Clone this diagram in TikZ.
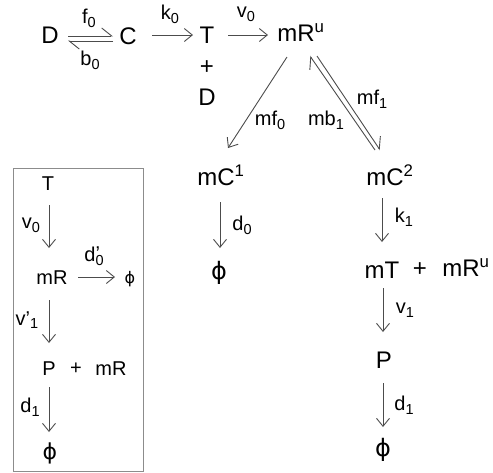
\documentclass[tikz,border=0pt]{standalone}
\usepackage{fontspec}
\setmainfont{Liberation Sans}
\newfontfamily\phifont{DejaVu Sans}
\usetikzlibrary{arrows.meta,calc}
\newcommand{\lsb}[1]{\raisebox{-0.35ex}{\fontsize{14.5}{14.5}\selectfont #1}}
\newcommand{\lsp}[1]{\textsuperscript{#1}}
\newcommand{\phis}{{\phifont ϕ}}
\begin{document}
\begin{tikzpicture}[x=1pt,y=-1pt,
  main/.style={font=\fontsize{24}{28}\selectfont, inner sep=0pt},
  boxt/.style={font=\fontsize{20}{24}\selectfont, inner sep=0pt},
  lbl/.style={font=\fontsize{20}{22}\selectfont, inner sep=0pt},
  arr/.style={draw=black!70, line width=0.9pt, -{Straight Barb[length=8pt,width=13pt]}},
  harp/.style={draw=black!70, line width=0.9pt, -{Straight Barb[left,length=10pt,width=16pt]}},
  frame/.style={draw=black!45, line width=0.9pt}]
\useasboundingbox (0,0) rectangle (493,472);
% main nodes
\node[main] (D1) at (50,35) {D};
\node[main] (C) at (128,36) {C};
\node[main] (T1) at (207,35) {T};
\node[main] (pl1) at (207,68) {+};
\node[main] (D2) at (207,97) {D};
\node[main] (mRu) at (301,33) {mR\lsp{u}};
\node[main] (mC1) at (221,175) {mC\lsp{1}};
\node[main] (mC2) at (390,175) {mC\lsp{2}};
\node[main] (phi1) at (219,273) {\phis};
\node[main] (mT) at (382,270) {mT};
\node[main] (pl2) at (420,270) {+};
\node[main] (mRu2) at (466,268) {mR\lsp{u}};
\node[main] (P1) at (384,360) {P};
\node[main] (phi2) at (383,450) {\phis};
% box
\draw[frame] (13,168) rectangle (143,471);
\node[boxt] (T2) at (48,184) {T};
\node[boxt] (mRb) at (52,278) {mR};
\node[font=\fontsize{16}{18}\selectfont, inner sep=0pt] (phi3) at (130,279) {\phis};
\node[boxt] (Pb) at (49,369) {P};
\node[boxt] (pl3) at (76,369) {+};
\node[boxt] (mRb2) at (111,369) {mR};
\node[font=\fontsize{22}{26}\selectfont, inner sep=0pt] (phi4) at (50,453) {\phis};
% arrows
\draw[harp] ($(D1)+(18,1)$) -- ($(C)+(-15,0)$);
\draw[harp] ($(C)+(-15,5)$) -- ($(D1)+(18,6)$);
\draw[arr] ($(C)+(24,-1)$) -- ($(T1)+(-14,0)$);
\draw[arr] ($(T1)+(21,0)$) -- ($(mRu)+(-33,2)$);
\draw[arr] ($(mRu)+(-14,24)$) -- ($(mC1)+(7,-27)$);
\draw[harp] ($(mC2)+(-15,-25)$) -- ($(mRu)+(9,23)$);
\draw[harp] ($(mRu)+(16,23)$) -- ($(mC2)+(-10,-25)$);
\draw[arr] ($(mC1)+(-1,27)$) -- ($(phi1)+(1,-25)$);
\draw[arr] ($(mC2)+(-8,23)$) -- ($(mT)+(0,-28)$);
\draw[arr] ($(mT)+(1,18)$) -- ($(P1)+(-1,-28)$);
\draw[arr] ($(P1)+(-1,23)$) -- ($(phi2)+(0,-23)$);
\draw[arr] ($(T2)+(1,21)$) -- ($(mRb)+(-3,-30)$);
\draw[arr] ($(mRb)+(26,-1)$) -- ($(phi3)+(-15,-2)$);
\draw[arr] ($(mRb)+(-3,22)$) -- ($(Pb)+(0,-26)$);
\draw[arr] ($(Pb)+(0,18)$) -- ($(phi4)+(-1,-21)$);
% labels
\node[lbl] (lf0) at (89,18) {f\lsb{0}};
\node[lbl] (lb0) at (90,60) {b\lsb{0}};
\node[lbl] (lk0) at (170,14) {k\lsb{0}};
\node[lbl] (lv0) at (246,14) {v\lsb{0}};
\node[lbl] (lmf0) at (270,120) {mf\lsb{0}};
\node[lbl] (lmb1) at (326,120) {mb\lsb{1}};
\node[lbl] (lmf1) at (372,99) {mf\lsb{1}};
\node[lbl] (ld0) at (242,225) {d\lsb{0}};
\node[lbl] (lk1) at (404,217) {k\lsb{1}};
\node[lbl] (lv1) at (405,310) {v\lsb{1}};
\node[lbl] (ld1) at (404,405) {d\lsb{1}};
\node[lbl] (lv0b) at (31,225) {v\lsb{0}};
\node[lbl] (ld0b) at (94,256) {d\rlap{\raisebox{0.1ex}{’}}\lsb{0}};
\node[lbl] (lv1b) at (27,320) {v’\lsb{1}};
\node[lbl] (ld1b) at (30,407) {d\lsb{1}};
\end{tikzpicture}
\end{document}
